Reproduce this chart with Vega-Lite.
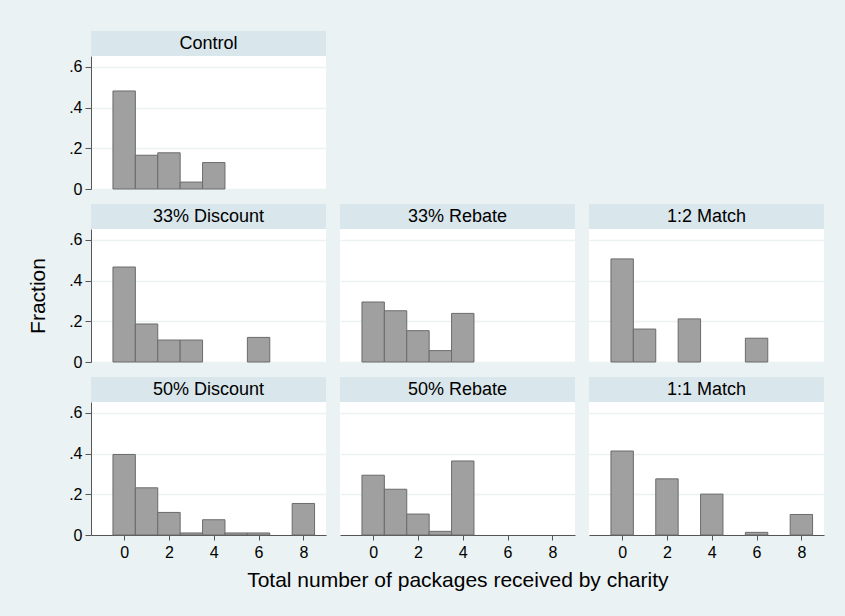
{
  "$schema": "https://vega.github.io/schema/vega-lite/v6.json",
  "background": "#eaf2f3",
  "padding": {"left": 27, "top": 31, "right": 21, "bottom": 26},
  "title": {"text": "Total number of packages received by charity", "orient": "bottom", "anchor": "middle", "frame": "bounds", "dx": 32, "font": "Liberation Sans", "fontSize": 21, "fontWeight": "normal", "color": "#000000", "offset": 10},
  "config": {
    "font": "Liberation Sans",
    "view": {"stroke": null},
    "axis": {
      "labelFont": "Liberation Sans", "labelFontSize": 16, "labelColor": "#000000",
      "titleFont": "Liberation Sans", "titleFontSize": 21, "titleFontWeight": "normal", "titleColor": "#000000",
      "domainColor": "#555555", "tickColor": "#555555", "domainWidth": 1, "tickWidth": 1,
      "gridColor": "#eaf2f3", "gridWidth": 1.5
    }
  },
  "datasets": {
    "hist": [
      {"group": "Control", "start": -0.5, "end": 0.5, "fraction": 0.482},
      {"group": "Control", "start": 0.5, "end": 1.5, "fraction": 0.166},
      {"group": "Control", "start": 1.5, "end": 2.5, "fraction": 0.178},
      {"group": "Control", "start": 2.5, "end": 3.5, "fraction": 0.034},
      {"group": "Control", "start": 3.5, "end": 4.5, "fraction": 0.130},
      {"group": "33% Discount", "start": -0.5, "end": 0.5, "fraction": 0.467},
      {"group": "33% Discount", "start": 0.5, "end": 1.5, "fraction": 0.187},
      {"group": "33% Discount", "start": 1.5, "end": 2.5, "fraction": 0.108},
      {"group": "33% Discount", "start": 2.5, "end": 3.5, "fraction": 0.108},
      {"group": "33% Discount", "start": 5.5, "end": 6.5, "fraction": 0.121},
      {"group": "33% Rebate", "start": -0.5, "end": 0.5, "fraction": 0.295},
      {"group": "33% Rebate", "start": 0.5, "end": 1.5, "fraction": 0.252},
      {"group": "33% Rebate", "start": 1.5, "end": 2.5, "fraction": 0.154},
      {"group": "33% Rebate", "start": 2.5, "end": 3.5, "fraction": 0.056},
      {"group": "33% Rebate", "start": 3.5, "end": 4.5, "fraction": 0.239},
      {"group": "1:2 Match", "start": -0.5, "end": 0.5, "fraction": 0.507},
      {"group": "1:2 Match", "start": 0.5, "end": 1.5, "fraction": 0.162},
      {"group": "1:2 Match", "start": 2.5, "end": 3.5, "fraction": 0.212},
      {"group": "1:2 Match", "start": 5.5, "end": 6.5, "fraction": 0.117},
      {"group": "50% Discount", "start": -0.5, "end": 0.5, "fraction": 0.396},
      {"group": "50% Discount", "start": 0.5, "end": 1.5, "fraction": 0.232},
      {"group": "50% Discount", "start": 1.5, "end": 2.5, "fraction": 0.111},
      {"group": "50% Discount", "start": 2.5, "end": 3.5, "fraction": 0.010},
      {"group": "50% Discount", "start": 3.5, "end": 4.5, "fraction": 0.075},
      {"group": "50% Discount", "start": 4.5, "end": 5.5, "fraction": 0.010},
      {"group": "50% Discount", "start": 5.5, "end": 6.5, "fraction": 0.010},
      {"group": "50% Discount", "start": 7.5, "end": 8.5, "fraction": 0.155},
      {"group": "50% Rebate", "start": -0.5, "end": 0.5, "fraction": 0.294},
      {"group": "50% Rebate", "start": 0.5, "end": 1.5, "fraction": 0.225},
      {"group": "50% Rebate", "start": 1.5, "end": 2.5, "fraction": 0.103},
      {"group": "50% Rebate", "start": 2.5, "end": 3.5, "fraction": 0.018},
      {"group": "50% Rebate", "start": 3.5, "end": 4.5, "fraction": 0.364},
      {"group": "1:1 Match", "start": -0.5, "end": 0.5, "fraction": 0.413},
      {"group": "1:1 Match", "start": 1.5, "end": 2.5, "fraction": 0.276},
      {"group": "1:1 Match", "start": 3.5, "end": 4.5, "fraction": 0.201},
      {"group": "1:1 Match", "start": 5.5, "end": 6.5, "fraction": 0.013},
      {"group": "1:1 Match", "start": 7.5, "end": 8.5, "fraction": 0.101}
    ]
  },
  "spacing": 7,
  "vconcat": [
    {"hconcat": [
      {"vconcat": [
        {"data": {"values": [{"label": "Control"}]}, "width": 235, "height": 25, "view": {"fill": "#d9e6eb", "stroke": null},
         "mark": {"type": "text", "fontSize": 18, "font": "Liberation Sans", "color": "#000000", "align": "center", "baseline": "middle"},
         "encoding": {"text": {"field": "label"}}},
        {"data": {"name": "hist"}, "transform": [{"filter": "datum.group === 'Control'"}], "width": 235, "height": 133, "view": {"fill": "#ffffff", "stroke": null},
         "mark": {"type": "bar", "orient": "vertical", "fill": "#a0a0a0", "stroke": "#6b6b6b", "strokeWidth": 1},
         "encoding": {
           "x": {"field": "start", "type": "quantitative", "scale": {"domain": [-1.48, 9.01], "nice": false, "zero": false, "padding": 0}, "axis": null},
           "x2": {"field": "end"},
           "y": {"field": "fraction", "type": "quantitative", "scale": {"domain": [0, 0.654], "nice": false, "padding": 0},
                 "axis": {"values": [0, 0.2, 0.4, 0.6], "labelExpr": "datum.value === 0 ? '0' : substring(format(datum.value, '.1f'), 1)", "title": null, "tickSize": 6, "labelPadding": 3, "grid": true}},
           "y2": {"datum": 0}
         }}
      ], "spacing": 0, "bounds": "flush"}
    ]},
    {"hconcat": [
      {"vconcat": [
        {"data": {"values": [{"label": "33% Discount"}]}, "width": 235, "height": 25, "view": {"fill": "#d9e6eb", "stroke": null},
         "mark": {"type": "text", "fontSize": 18, "font": "Liberation Sans", "color": "#000000", "align": "center", "baseline": "middle"},
         "encoding": {"text": {"field": "label"}}},
        {"data": {"name": "hist"}, "transform": [{"filter": "datum.group === '33% Discount'"}], "width": 235, "height": 133, "view": {"fill": "#ffffff", "stroke": null},
         "mark": {"type": "bar", "orient": "vertical", "fill": "#a0a0a0", "stroke": "#6b6b6b", "strokeWidth": 1},
         "encoding": {
           "x": {"field": "start", "type": "quantitative", "scale": {"domain": [-1.48, 9.01], "nice": false, "zero": false, "padding": 0}, "axis": null},
           "x2": {"field": "end"},
           "y": {"field": "fraction", "type": "quantitative", "scale": {"domain": [0, 0.654], "nice": false, "padding": 0},
                 "axis": {"values": [0, 0.2, 0.4, 0.6], "labelExpr": "datum.value === 0 ? '0' : substring(format(datum.value, '.1f'), 1)", "title": "Fraction", "titlePadding": 20, "tickSize": 6, "labelPadding": 3, "grid": true}},
           "y2": {"datum": 0}
         }}
      ], "spacing": 0, "bounds": "flush"},
      {"vconcat": [
        {"data": {"values": [{"label": "33% Rebate"}]}, "width": 235, "height": 25, "view": {"fill": "#d9e6eb", "stroke": null},
         "mark": {"type": "text", "fontSize": 18, "font": "Liberation Sans", "color": "#000000", "align": "center", "baseline": "middle"},
         "encoding": {"text": {"field": "label"}}},
        {"data": {"name": "hist"}, "transform": [{"filter": "datum.group === '33% Rebate'"}], "width": 235, "height": 133, "view": {"fill": "#ffffff", "stroke": null},
         "mark": {"type": "bar", "orient": "vertical", "fill": "#a0a0a0", "stroke": "#6b6b6b", "strokeWidth": 1},
         "encoding": {
           "x": {"field": "start", "type": "quantitative", "scale": {"domain": [-1.48, 9.01], "nice": false, "zero": false, "padding": 0}, "axis": null},
           "x2": {"field": "end"},
           "y": {"field": "fraction", "type": "quantitative", "scale": {"domain": [0, 0.654], "nice": false, "padding": 0},
                 "axis": {"values": [0, 0.2, 0.4, 0.6], "labels": false, "ticks": false, "domain": false, "title": null, "grid": true}},
           "y2": {"datum": 0}
         }}
      ], "spacing": 0, "bounds": "flush"},
      {"vconcat": [
        {"data": {"values": [{"label": "1:2 Match"}]}, "width": 235, "height": 25, "view": {"fill": "#d9e6eb", "stroke": null},
         "mark": {"type": "text", "fontSize": 18, "font": "Liberation Sans", "color": "#000000", "align": "center", "baseline": "middle"},
         "encoding": {"text": {"field": "label"}}},
        {"data": {"name": "hist"}, "transform": [{"filter": "datum.group === '1:2 Match'"}], "width": 235, "height": 133, "view": {"fill": "#ffffff", "stroke": null},
         "mark": {"type": "bar", "orient": "vertical", "fill": "#a0a0a0", "stroke": "#6b6b6b", "strokeWidth": 1},
         "encoding": {
           "x": {"field": "start", "type": "quantitative", "scale": {"domain": [-1.48, 9.01], "nice": false, "zero": false, "padding": 0}, "axis": null},
           "x2": {"field": "end"},
           "y": {"field": "fraction", "type": "quantitative", "scale": {"domain": [0, 0.654], "nice": false, "padding": 0},
                 "axis": {"values": [0, 0.2, 0.4, 0.6], "labels": false, "ticks": false, "domain": false, "title": null, "grid": true}},
           "y2": {"datum": 0}
         }}
      ], "spacing": 0, "bounds": "flush"}
    ], "spacing": 14},
    {"hconcat": [
      {"vconcat": [
        {"data": {"values": [{"label": "50% Discount"}]}, "width": 235, "height": 25, "view": {"fill": "#d9e6eb", "stroke": null},
         "mark": {"type": "text", "fontSize": 18, "font": "Liberation Sans", "color": "#000000", "align": "center", "baseline": "middle"},
         "encoding": {"text": {"field": "label"}}},
        {"data": {"name": "hist"}, "transform": [{"filter": "datum.group === '50% Discount'"}], "width": 235, "height": 133, "view": {"fill": "#ffffff", "stroke": null},
         "mark": {"type": "bar", "orient": "vertical", "fill": "#a0a0a0", "stroke": "#6b6b6b", "strokeWidth": 1},
         "encoding": {
           "x": {"field": "start", "type": "quantitative", "scale": {"domain": [-1.48, 9.01], "nice": false, "zero": false, "padding": 0},
                 "axis": {"values": [0, 2, 4, 6, 8], "format": "d", "title": null, "tickSize": 5, "labelPadding": 4, "grid": false, "labelFlush": false, "labelOverlap": false}},
           "x2": {"field": "end"},
           "y": {"field": "fraction", "type": "quantitative", "scale": {"domain": [0, 0.654], "nice": false, "padding": 0},
                 "axis": {"values": [0, 0.2, 0.4, 0.6], "labelExpr": "datum.value === 0 ? '0' : substring(format(datum.value, '.1f'), 1)", "title": null, "tickSize": 6, "labelPadding": 3, "grid": true}},
           "y2": {"datum": 0}
         }}
      ], "spacing": 0, "bounds": "flush"},
      {"vconcat": [
        {"data": {"values": [{"label": "50% Rebate"}]}, "width": 235, "height": 25, "view": {"fill": "#d9e6eb", "stroke": null},
         "mark": {"type": "text", "fontSize": 18, "font": "Liberation Sans", "color": "#000000", "align": "center", "baseline": "middle"},
         "encoding": {"text": {"field": "label"}}},
        {"data": {"name": "hist"}, "transform": [{"filter": "datum.group === '50% Rebate'"}], "width": 235, "height": 133, "view": {"fill": "#ffffff", "stroke": null},
         "mark": {"type": "bar", "orient": "vertical", "fill": "#a0a0a0", "stroke": "#6b6b6b", "strokeWidth": 1},
         "encoding": {
           "x": {"field": "start", "type": "quantitative", "scale": {"domain": [-1.48, 9.01], "nice": false, "zero": false, "padding": 0},
                 "axis": {"values": [0, 2, 4, 6, 8], "format": "d", "title": null, "tickSize": 5, "labelPadding": 4, "grid": false, "labelFlush": false, "labelOverlap": false}},
           "x2": {"field": "end"},
           "y": {"field": "fraction", "type": "quantitative", "scale": {"domain": [0, 0.654], "nice": false, "padding": 0},
                 "axis": {"values": [0, 0.2, 0.4, 0.6], "labels": false, "ticks": false, "domain": false, "title": null, "grid": true}},
           "y2": {"datum": 0}
         }}
      ], "spacing": 0, "bounds": "flush"},
      {"vconcat": [
        {"data": {"values": [{"label": "1:1 Match"}]}, "width": 235, "height": 25, "view": {"fill": "#d9e6eb", "stroke": null},
         "mark": {"type": "text", "fontSize": 18, "font": "Liberation Sans", "color": "#000000", "align": "center", "baseline": "middle"},
         "encoding": {"text": {"field": "label"}}},
        {"data": {"name": "hist"}, "transform": [{"filter": "datum.group === '1:1 Match'"}], "width": 235, "height": 133, "view": {"fill": "#ffffff", "stroke": null},
         "mark": {"type": "bar", "orient": "vertical", "fill": "#a0a0a0", "stroke": "#6b6b6b", "strokeWidth": 1},
         "encoding": {
           "x": {"field": "start", "type": "quantitative", "scale": {"domain": [-1.48, 9.01], "nice": false, "zero": false, "padding": 0},
                 "axis": {"values": [0, 2, 4, 6, 8], "format": "d", "title": null, "tickSize": 5, "labelPadding": 4, "grid": false, "labelFlush": false, "labelOverlap": false}},
           "x2": {"field": "end"},
           "y": {"field": "fraction", "type": "quantitative", "scale": {"domain": [0, 0.654], "nice": false, "padding": 0},
                 "axis": {"values": [0, 0.2, 0.4, 0.6], "labels": false, "ticks": false, "domain": false, "title": null, "grid": true}},
           "y2": {"datum": 0}
         }}
      ], "spacing": 0, "bounds": "flush"}
    ], "spacing": 14}
  ]
}
